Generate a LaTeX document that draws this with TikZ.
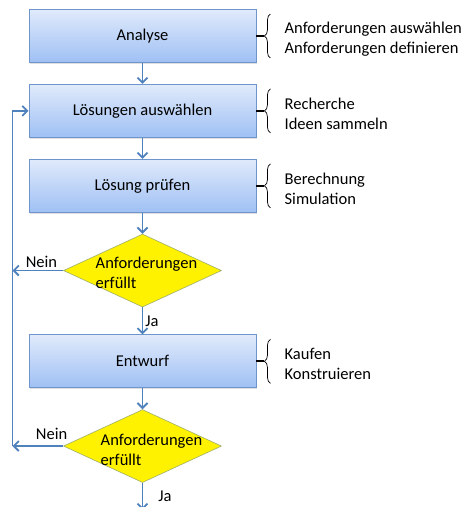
\documentclass[tikz,border=0pt]{standalone}
\usepackage{fontspec}
\setmainfont{Carlito}
\usepackage{tikz}
\usetikzlibrary{positioning,shapes.geometric,arrows.meta,decorations.pathreplacing,shadows}
\definecolor{flowblue}{HTML}{4F81BD}
\definecolor{boxtop}{HTML}{E0EAFB}
\definecolor{boxbottom}{HTML}{9FC0F4}
\definecolor{boxline}{HTML}{6E96CC}
\definecolor{checkline}{HTML}{9EAF6A}

\begin{document}
\begin{tikzpicture}[
  font=\fontsize{16.5}{20}\selectfont,
  node distance=21pt,
  stage/.style={rectangle, draw=boxline, line width=0.9pt, top color=boxtop, bottom color=boxbottom, minimum width=227pt, minimum height=53pt, drop shadow={opacity=0.25, shadow xshift=1pt, shadow yshift=-1.5pt}},
  check/.style={diamond, draw=checkline, fill=yellow, line width=0.6pt, minimum width=158pt, minimum height=73pt, inner sep=0pt},
  checktext/.style={align=left, inner sep=0pt},
  note/.style={align=left, inner sep=0pt},
  brace/.style={decorate, decoration={brace, amplitude=6pt}, line width=0.7pt},
  stub/.style={line width=2pt},
  arrow/.style={-{Straight Barb[length=5pt,width=10pt]}, draw=flowblue, line width=1.8pt},
  answer/.style={inner sep=2pt}
]
\useasboundingbox (0,0) rectangle (464pt,-507pt);
\node[stage] (b1) at (142.5pt,-36pt) {Analyse};
\node[stage, below=of b1] (b2) {Lösungen auswählen};
\node[stage, below=of b2] (b3) {Lösung prüfen};
\node[check, below=of b3, label={[checktext, xshift=4pt, yshift=-2pt]center:{Anforderungen\\erfüllt}}] (d1) {};
\node[stage, below=27pt of d1] (b4) {Entwurf};
\node[check, below=of b4, label={[checktext, xshift=9pt, yshift=-4pt]center:{Anforderungen\\erfüllt}}] (d2) {};
% Stichpunkte rechts
\node[note, right=28pt of b1.east, yshift=-3pt] (n1) {Anforderungen auswählen\\Anforderungen definieren};
\node[note, right=28pt of b2.east, yshift=-3pt] (n2) {Recherche\\Ideen sammeln};
\node[note, right=28pt of b3.east, yshift=-3pt] (n3) {Berechnung\\Simulation};
\node[note, right=28pt of b4.east, yshift=-3pt] (n4) {Kaufen\\Konstruieren};
\draw[brace] ([xshift=14pt,yshift=-22pt]b1.east) -- ([xshift=14pt,yshift=22pt]b1.east);
\draw[brace] ([xshift=14pt,yshift=-22pt]b2.east) -- ([xshift=14pt,yshift=22pt]b2.east);
\draw[brace] ([xshift=14pt,yshift=-22pt]b3.east) -- ([xshift=14pt,yshift=22pt]b3.east);
\draw[brace] ([xshift=14pt,yshift=-22pt]b4.east) -- ([xshift=14pt,yshift=22pt]b4.east);
\draw[stub] (b1.east) -- ++(8pt,0);
\draw[stub] (b2.east) -- ++(8pt,0);
\draw[stub] (b3.east) -- ++(8pt,0);
\draw[stub] (b4.east) -- ++(8pt,0);
% Ablauf
\coordinate (back) at ([xshift=-16pt]b2.west |- d2.west);
\coordinate[below=27pt of d2.south] (done);
\draw[arrow] (b1) -- (b2);
\draw[arrow] (b2) -- (b3);
\draw[arrow] (b3) -- (d1);
\draw[arrow] (d1) -- node[answer, right] {Ja} (b4);
\draw[arrow] (b4) -- (d2);
\draw[arrow] (d2) -- node[answer, right, xshift=13pt] {Ja} (done);
\draw[arrow] (d1.west) -- node[answer, above, pos=0.43] {Nein} (d1.west -| back);
\draw[arrow] (d2.west) -- node[answer, above, pos=0.23, yshift=4pt] {Nein} (back);
\draw[arrow] (back) |- (b2.west);
\end{tikzpicture}
\end{document}
